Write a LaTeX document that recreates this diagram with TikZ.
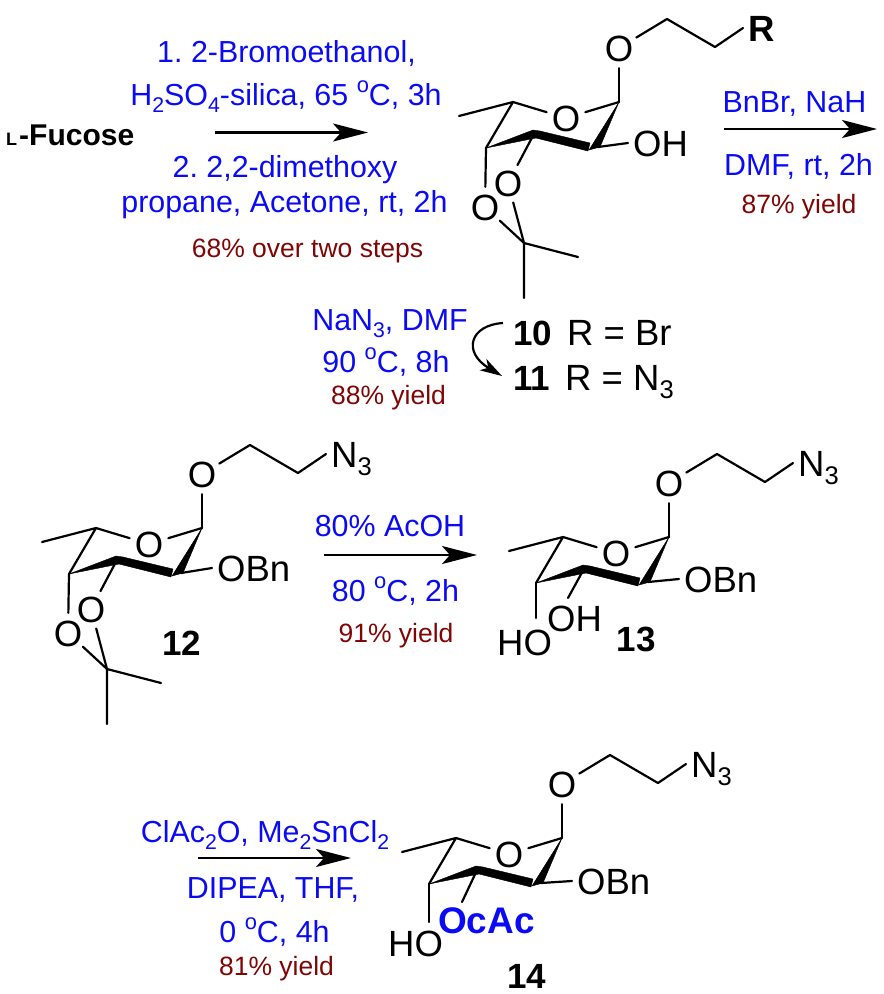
\documentclass[tikz,border=0pt]{standalone}
\usepackage{fontspec}
\setmainfont{Liberation Sans}
\usetikzlibrary{arrows.meta}
\definecolor{rgblue}{RGB}{10,10,245}
\definecolor{ylred}{RGB}{128,5,5}
\newcommand\dn[1]{\raisebox{-.24em}{\scalebox{.7}{#1}}}
\newcommand\ups[1]{\raisebox{.42em}{\scalebox{.72}{#1}}}
\tikzset{
  bond/.style={line width=2.2pt,line cap=round,line join=round},
  wedgefill/.style={fill=black,draw=black,line width=.4pt,line join=round},
  atom/.style={circle,minimum size=40pt,inner sep=0pt,font=\fontsize{36.5}{40}\selectfont,text height=26pt,text depth=0pt},
  group/.style={anchor=west,inner xsep=5pt,inner ysep=0pt,font=\fontsize{36.5}{40}\selectfont,text height=26pt,text depth=0pt},
  cmpd/.style={inner sep=0pt,font=\fontsize{35}{40}\selectfont\bfseries,text height=26pt,text depth=0pt},
  reagent/.style={inner sep=0pt,anchor=base,text=rgblue,font=\fontsize{30.4}{36}\selectfont},
  yieldtxt/.style={inner sep=0pt,anchor=base,text=ylred,font=\fontsize{26.5}{32}\selectfont},
  rlabel/.style={inner sep=0pt,anchor=base west,font=\fontsize{36.5}{40}\selectfont},
  rxn/.style={line width=2.3pt,-{Stealth[length=35pt,width=18pt,inset=8pt]}}
}
% sugar ring drawn in the coordinates of compound 10; #1 name prefix, #2 #3 shift, #4 chain end text
\newcommand\sugarring[4]{%
\begin{scope}[shift={(#2,#3)}]
  \node[atom] (#1Oa) at (619,48) {O};
  \node[atom] (#1Or) at (566,118) {O};
  \node[group] (#1End) at (743,28) {#4};
  \coordinate (#1Cb) at (667,19);
  \coordinate (#1Cc) at (715,47);
  \coordinate (#1C1) at (619,102);
  \coordinate (#1C5) at (513,102);
  \coordinate (#1Me) at (459,116);
  \coordinate (#1C4) at (486,148);
  \coordinate (#1C3) at (535,132);
  \coordinate (#1C2) at (598,147);
  \draw[bond] (#1Oa) -- (#1C1);
  \draw[bond] (#1Oa) -- (#1Cb) -- (#1Cc) -- (#1End.west);
  \draw[bond] (#1C1) -- (#1Or);
  \draw[bond] (#1C5) -- (#1Or);
  \draw[bond] (#1Me) -- (#1C5) -- (#1C4);
  \fill[wedgefill] (#1C1) -- (589,150) -- (600,147) -- cycle;
  \fill[wedgefill] (#1C4) -- (533,130) -- (540,131) -- (590,143) -- (588,151) -- (536,138) -- cycle;
\end{scope}}
% isopropylidene of 10 and 12
\newcommand\acetonide[3]{%
\begin{scope}[shift={(#2,#3)}]
  \node[atom] (#1Ou) at (508,183) {O};
  \node[atom] (#1Ol) at (485,207) {O};
  \coordinate (#1CMe) at (524,243);
  \coordinate (#1Ma) at (578,257);
  \coordinate (#1Mb) at (524,298);
  \draw[bond] (#1C3) -- (#1Ou);
  \draw[bond] (#1C4) -- (#1Ol);
  \draw[bond] (#1Ou) -- (#1CMe);
  \draw[bond] (#1Ol) -- (#1CMe);
  \draw[bond] (#1Ma) -- (#1CMe) -- (#1Mb);
\end{scope}}
\begin{document}
\begin{tikzpicture}[x=1pt,y=-1pt]
\useasboundingbox (0,0) rectangle (884,994);
% compound 10/11
\sugarring{a}{0}{0}{\textbf{R}}
\acetonide{a}{0}{0}
\node[group] (aOH) at (628,143) {OH};
\draw[bond] (aC2) -- (aOH.west);
% compound 12
\sugarring{b}{-417}{426}{N\dn{3}}
\acetonide{b}{-417}{426}
\node[group] (bOBn) at (212,568) {OBn};
\draw[bond] (bC2) -- (bOBn.west);
\node[cmpd] (n12) at (182,642) {12};
% compound 13
\sugarring{c}{50}{435}{N\dn{3}}
\node[group] (cOBn) at (679,579) {OBn};
\draw[bond] (cC2) -- (cOBn.west);
\node[group,inner xsep=0pt] (cOH) at (547,618) {OH};
\node[group,inner xsep=0pt] (cHO) at (497,642) {HO};
\coordinate (cOHb) at (568,598);
\coordinate (cHOb) at (536,618);
\draw[bond] (cC3) -- (cOHb);
\draw[bond] (cC4) -- (cHOb);
\node[cmpd] (n13) at (636,638) {13};
% compound 14
\sugarring{d}{-57}{736}{N\dn{3}}
\node[group] (dOBn) at (572,881) {OBn};
\draw[bond] (dC2) -- (dOBn.west);
\node[group,inner xsep=0pt] (dHO) at (388,943) {HO};
\node[group,inner xsep=0pt,text=rgblue,font=\fontsize{37}{40}\selectfont\bfseries] (dOc) at (438,920) {OcAc};
\coordinate (dOHb) at (462,902);
\coordinate (dHOb) at (429,922);
\draw[bond] (dC3) -- (dOHb);
\draw[bond] (dC4) -- (dHOb);
\node[cmpd] (n14) at (527,975) {14};
% start
\node[inner sep=0pt,anchor=base west,font=\fontsize{30}{32}\selectfont\bfseries] (fuc) at (6,145) {{\fontsize{18}{20}\selectfont L}\hspace{2pt}-Fucose};
% step 1
\node[reagent] (t1) at (286.5,62) {1.\ 2-Bromoethanol,};
\node[reagent] (t2) at (286,105) {H\dn{2}SO\dn{4}-silica, 65 \ups{o}C, 3h};
\coordinate (a1s) at (215,132.5); \coordinate (a1e) at (368,132.5);
\draw[rxn] (a1s) -- (a1e);
\node[reagent] (t3) at (285,177) {2.\ 2,2-dimethoxy};
\node[reagent] (t4) at (284.5,212) {propane, Acetone, rt, 2h};
\node[yieldtxt] (t5) at (307.5,257) {68\% over two steps};
% step 2
\node[reagent] (u1) at (794.5,112) {BnBr, NaH};
\coordinate (a2s) at (724,129); \coordinate (a2e) at (877,129);
\draw[rxn] (a2s) -- (a2e);
\node[reagent] (u2) at (798.5,175) {DMF, rt, 2h};
\node[yieldtxt] (u3) at (799,213) {87\% yield};
% 10 -> 11
\node[reagent] (v1) at (390,330) {NaN\dn{3}, DMF};
\node[reagent] (v2) at (386,372) {90 \ups{o}C, 8h};
\node[yieldtxt] (v3) at (388.5,404) {88\% yield};
\node[rlabel] (l10) at (513,345) {{\fontsize{35}{40}\selectfont\bfseries 10}\hspace{15pt}R = Br};
\node[rlabel] (l11) at (513,390) {{\fontsize{35}{40}\selectfont\bfseries 11}\hspace{15pt}R = N\dn{3}};
\coordinate (cvs) at (503,323); \coordinate (cve) at (502,376);
\draw[line width=2.2pt,-{Stealth[length=22pt,width=13pt,inset=6pt]}] (cvs) .. controls (470,325) and (462,352) .. (cve);
% 12 -> 13
\node[reagent] (w1) at (390,536) {80\% AcOH};
\coordinate (a3s) at (324,555); \coordinate (a3e) at (477,555);
\draw[rxn] (a3s) -- (a3e);
\node[reagent] (w2) at (395.5,601) {80 \ups{o}C, 2h};
\node[yieldtxt] (w3) at (396,642) {91\% yield};
% 13 -> 14
\node[reagent] (x1) at (265,842) {ClAc\dn{2}O, Me\dn{2}SnCl\dn{2}};
\coordinate (a4s) at (198,858); \coordinate (a4e) at (351,858);
\draw[rxn] (a4s) -- (a4e);
\node[reagent] (x2) at (273,898) {DIPEA, THF,};
\node[reagent] (x3) at (274.5,942) {0 \ups{o}C, 4h};
\node[yieldtxt] (x4) at (276.5,975) {81\% yield};
\end{tikzpicture}
\end{document}
